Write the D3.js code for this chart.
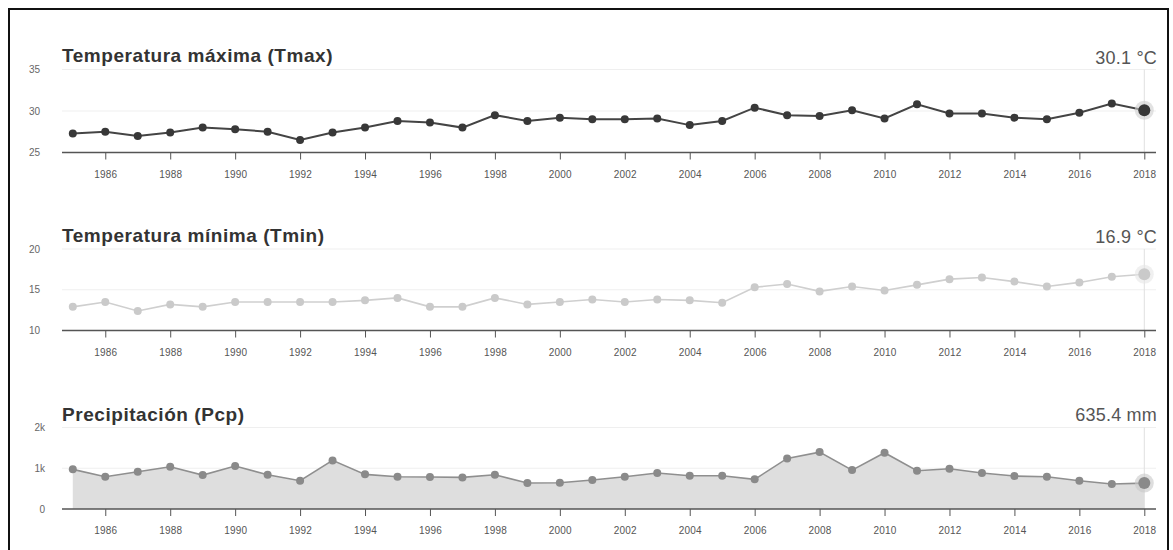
<!DOCTYPE html>
<html>
<head>
<meta charset="utf-8">
<script src="https://cdn.jsdelivr.net/npm/d3@7"></script>
<style>
  html, body { margin: 0; padding: 0; background: #fff; }
  svg { display: block; font-family: "Liberation Sans", Arial, Helvetica, sans-serif; }
</style>
</head>
<body>
<svg id="chart" width="1173" height="550"></svg>
<script>
const years = d3.range(1985, 2019);
const tickYears = d3.range(1986, 2019, 2);

const tmax = [27.3, 27.5, 27.0, 27.4, 28.0, 27.8, 27.5, 26.5, 27.4, 28.0,
              28.8, 28.6, 28.0, 29.5, 28.8, 29.2, 29.0, 29.0, 29.1, 28.3,
              28.8, 30.4, 29.5, 29.4, 30.1, 29.1, 30.8, 29.7, 29.7, 29.2,
              29.0, 29.8, 30.9, 30.1];
const tmin = [12.9, 13.5, 12.4, 13.2, 12.9, 13.5, 13.5, 13.5, 13.5, 13.7,
              14.0, 12.9, 12.9, 14.0, 13.2, 13.5, 13.8, 13.5, 13.8, 13.7,
              13.4, 15.3, 15.7, 14.8, 15.4, 14.9, 15.6, 16.3, 16.5, 16.0,
              15.4, 15.9, 16.6, 16.9];
const pcp = [973, 791, 914, 1036, 833, 1054, 840, 693, 1193, 850,
             791, 784, 776, 840, 637, 644, 710, 791, 882, 816,
             816, 727, 1242, 1396, 955, 1380, 939, 988, 882, 808,
             791, 693, 612, 635.4];

const titles = ["Temperatura máxima (Tmax)", "Temperatura mínima (Tmin)", "Precipitación (Pcp)"];
const units = ["°C", "°C", "mm"];
const yDomains = [[25, 35], [10, 20], [0, 2000]];
const yTicks = [[25, 30, 35], [10, 15, 20], [0, 1000, 2000]];
const yTickLabels = [["25", "30", "35"], ["10", "15", "20"], ["0", "1k", "2k"]];
const seriesList = [tmax, tmin, pcp];

// layout (positions/styles)
const panels = [
  { axisY: 152.5, topY: 69.5, titleY: 62, valueY: 64, yLabelX: 40,
    point: "#383838", line: "#444", halo: "#cfcfcf", area: null, lw: 2 },
  { axisY: 330.5, topY: 249, titleY: 242, valueY: 242.5, yLabelX: 40,
    point: "#cacaca", line: "#cfcfcf", halo: "#e6e6e6", area: null, lw: 1.6 },
  { axisY: 509, topY: 427.5, titleY: 421, valueY: 421, yLabelX: 45,
    point: "#8a8a8a", line: "#8f8f8f", halo: "#c8c8c8", area: "#dedede", lw: 1.6 }
];

const svg = d3.select("#chart");
svg.append("rect").attr("x", 0).attr("y", 0).attr("width", 1173).attr("height", 550).attr("fill", "#fff");
svg.append("rect").attr("x", 9).attr("y", 9).attr("width", 1159).attr("height", 560)
  .attr("fill", "none").attr("stroke", "#111").attr("stroke-width", 2);

const x = d3.scaleLinear().domain([1985, 2018]).range([72.8, 1144.3]);
const axisX0 = 62, axisX1 = 1156;

panels.forEach((p, i) => {
  const data = years.map((yr, k) => ({ yr, v: seriesList[i][k] }));
  const y = d3.scaleLinear().domain(yDomains[i]).range([p.axisY, p.topY]);
  const g = svg.append("g");

  // gridlines
  yTicks[i].slice(1).forEach(t => {
    g.append("line").attr("x1", axisX0).attr("x2", axisX1)
      .attr("y1", y(t)).attr("y2", y(t))
      .attr("stroke", "#efefef").attr("stroke-width", 1);
  });

  // y labels
  yTicks[i].forEach((t, k) => {
    g.append("text").attr("x", p.yLabelX).attr("y", y(t)).attr("dy", "0.35em")
      .attr("text-anchor", "end").attr("font-size", 10).attr("fill", "#666")
      .text(yTickLabels[i][k]);
  });

  // area
  if (p.area) {
    const area = d3.area().x(d => x(d.yr)).y0(y(yDomains[i][0])).y1(d => y(d.v));
    g.append("path").datum(data).attr("d", area).attr("fill", p.area);
  }

  // hover vertical line at last year
  const last = data[data.length - 1];
  g.append("line").attr("x1", x(last.yr)).attr("x2", x(last.yr))
    .attr("y1", p.topY).attr("y2", p.axisY)
    .attr("stroke", "#e0e0e0").attr("stroke-width", 1);

  // x axis
  const ax = d3.axisBottom(x).tickValues(tickYears).tickSize(7).tickPadding(11)
    .tickFormat(d3.format("d"));
  const axG = g.append("g").attr("transform", `translate(0,${p.axisY})`).call(ax);
  axG.select(".domain").remove();
  axG.selectAll(".tick line").attr("stroke", "#555").attr("stroke-width", 1);
  axG.selectAll(".tick text").attr("fill", "#555").attr("font-size", 10)
    .attr("letter-spacing", 0.2)
    .attr("font-family", "Liberation Sans, Arial, sans-serif");
  g.append("line").attr("x1", axisX0).attr("x2", axisX1)
    .attr("y1", p.axisY).attr("y2", p.axisY)
    .attr("stroke", "#555").attr("stroke-width", 1.5);

  // line
  const line = d3.line().x(d => x(d.yr)).y(d => y(d.v));
  g.append("path").datum(data).attr("d", line).attr("fill", "none")
    .attr("stroke", p.line).attr("stroke-width", p.lw);

  // points
  g.selectAll("circle.pt").data(data.slice(0, -1)).enter().append("circle")
    .attr("class", "pt").attr("cx", d => x(d.yr)).attr("cy", d => y(d.v))
    .attr("r", 4).attr("fill", p.point);

  // highlighted last point
  g.append("circle").attr("cx", x(last.yr)).attr("cy", y(last.v)).attr("r", 9.5)
    .attr("fill", p.halo).attr("fill-opacity", 0.6);
  g.append("circle").attr("cx", x(last.yr)).attr("cy", y(last.v)).attr("r", 6)
    .attr("fill", p.point);

  // title
  g.append("text").attr("x", 62).attr("y", p.titleY)
    .attr("font-size", 19).attr("font-weight", "bold").attr("fill", "#333")
    .attr("letter-spacing", 0.55)
    .text(titles[i]);

  // value label
  const fmt = d3.format(".1f");
  g.append("text").attr("x", 1157).attr("y", p.valueY).attr("text-anchor", "end")
    .attr("font-size", 18).attr("fill", "#555").attr("letter-spacing", 0.2)
    .text(`${fmt(last.v)} ${units[i]}`);
});
</script>
</body>
</html>
